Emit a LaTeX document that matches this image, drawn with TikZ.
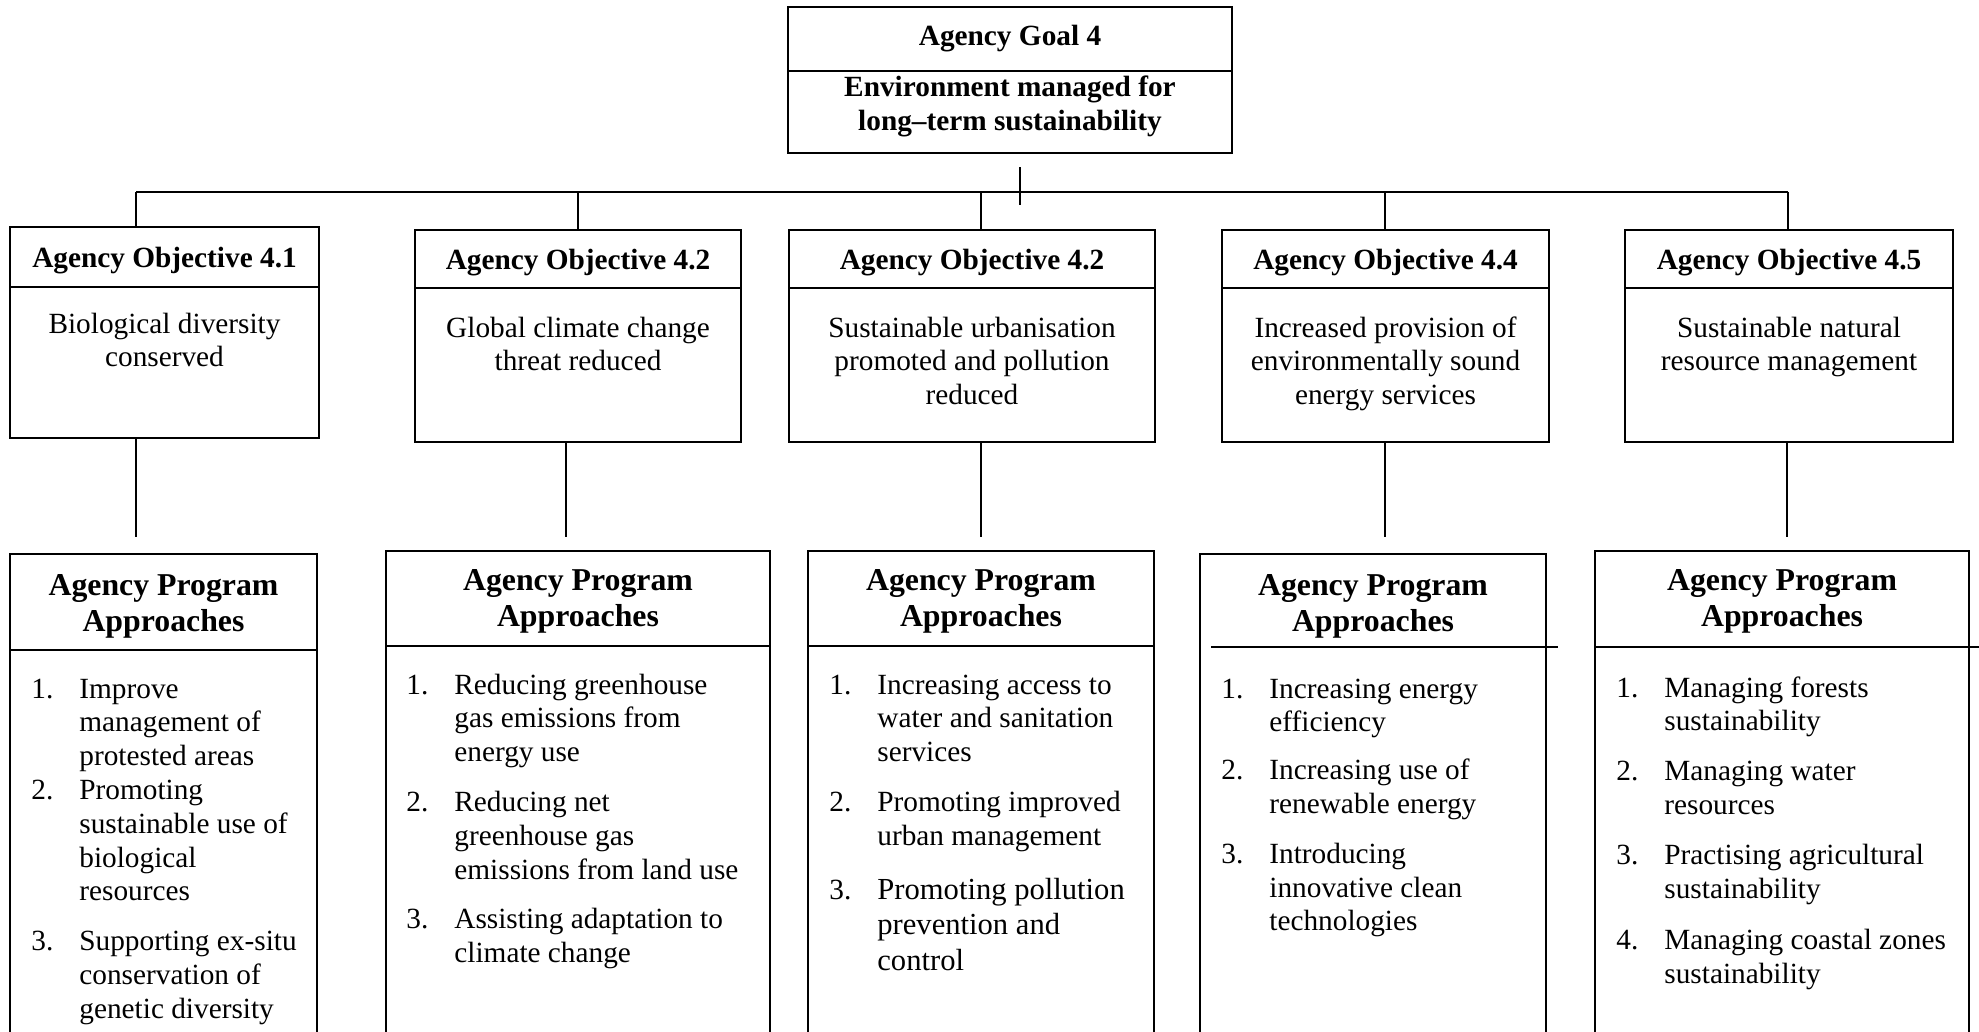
\documentclass[tikz,border=0pt]{standalone}
\usepackage{fontspec}
\setmainfont{Liberation Serif}
\usetikzlibrary{positioning}

\newcommand{\agbody}{\fontsize{14.65}{16.9}\selectfont}
\newcommand{\agtitle}{\fontsize{14.65}{16.9}\selectfont\bfseries}
\newcommand{\aghead}{\fontsize{15.9}{18}\selectfont\bfseries}
\newcommand{\agbig}{\fontsize{15.3}{17.6}\selectfont}

\tikzset{
  box/.style={draw, line width=0.9pt, inner sep=0pt, outer sep=0pt},
  objtitle/.style={box, font=\agtitle, text depth=0pt},
  link/.style={draw, line width=0.75pt},
  txt/.style={inner sep=0pt, anchor=base},
  lst/.style={inner sep=0pt, anchor=base west, font=\agbody},
}

\begin{document}
\begin{tikzpicture}[x=0.5pt,y=-0.5pt]
  \clip (0,0) rectangle (1979,1032);

  % goal
  \node[box, minimum width=222pt, minimum height=32pt, font=\agtitle] (goal) at (1010,39) {Agency Goal 4};
  \node[box, minimum width=222pt, minimum height=41pt, below=0pt of goal] (goalb) {};
  \node[txt, font=\agtitle] (goaltx) at (1010,97) {\begin{tabular}[t]{@{}c@{}}Environment managed for\\ long--term sustainability\end{tabular}};

  % objectives
  \node[objtitle, minimum width=154.5pt, minimum height=30pt] (ot1) at (164.5,257) {Agency Objective 4.1};
  \node[box, minimum width=154.5pt, minimum height=75.5pt, below=0pt of ot1] (ob1) {};
  \node[objtitle, minimum width=163pt, minimum height=29pt] (ot2) at (578,259) {Agency Objective 4.2};
  \node[box, minimum width=163pt, minimum height=77pt, below=0pt of ot2] (ob2) {};
  \node[objtitle, minimum width=183pt, minimum height=29pt] (ot3) at (972,259) {Agency Objective 4.2};
  \node[box, minimum width=183pt, minimum height=77pt, below=0pt of ot3] (ob3) {};
  \node[objtitle, minimum width=163.5pt, minimum height=29pt] (ot4) at (1385.5,259) {Agency Objective 4.4};
  \node[box, minimum width=163.5pt, minimum height=77pt, below=0pt of ot4] (ob4) {};
  \node[objtitle, minimum width=164pt, minimum height=29pt] (ot5) at (1789,259) {Agency Objective 4.5};
  \node[box, minimum width=164pt, minimum height=77pt, below=0pt of ot5] (ob5) {};

  \node[txt, font=\agbody] (ox1) at (164.5,333) {\begin{tabular}[t]{@{}c@{}}Biological diversity\\ conserved\end{tabular}};
  \node[txt, font=\agbody] (ox2) at (578,337) {\begin{tabular}[t]{@{}c@{}}Global climate change\\ threat reduced\end{tabular}};
  \node[txt, font=\agbody] (ox3) at (972,337) {\begin{tabular}[t]{@{}c@{}}Sustainable urbanisation\\ promoted and pollution\\ reduced\end{tabular}};
  \node[txt, font=\agbody] (ox4) at (1385.5,337) {\begin{tabular}[t]{@{}c@{}}Increased provision of\\ environmentally sound\\ energy services\end{tabular}};
  \node[txt, font=\agbody] (ox5) at (1789,337) {\begin{tabular}[t]{@{}c@{}}Sustainable natural\\ resource management\end{tabular}};

  % program approaches
  \node[box, minimum width=153.5pt, minimum height=273pt] (pa1) at (163.5,827) {};
  \node[box, minimum width=192pt, minimum height=274.5pt] (pa2) at (578,825.5) {};
  \node[box, minimum width=173pt, minimum height=274.5pt] (pa3) at (981,825.5) {};
  \node[box, minimum width=173pt, minimum height=273pt] (pa4) at (1373,827) {};
  \node[box, minimum width=187pt, minimum height=274.5pt] (pa5) at (1782,825.5) {};

  \draw[box] ([yshift=-48pt]pa1.north west) -- ([yshift=-48pt]pa1.north east);
  \draw[box] ([yshift=-47.5pt]pa2.north west) -- ([yshift=-47.5pt]pa2.north east);
  \draw[box] ([yshift=-47.5pt]pa3.north west) -- ([yshift=-47.5pt]pa3.north east);
  \draw[box] ([xshift=5.5pt,yshift=-46.5pt]pa4.north west) -- ([xshift=6pt,yshift=-46.5pt]pa4.north east);
  \draw[box] ([yshift=-48pt]pa5.north west) -- ([xshift=5pt,yshift=-48pt]pa5.north east);

  \node[txt, font=\aghead] (ph1) at (163.5,595) {\begin{tabular}[t]{@{}c@{}}Agency Program\\ Approaches\end{tabular}};
  \node[txt, font=\aghead] (ph2) at (578,590) {\begin{tabular}[t]{@{}c@{}}Agency Program\\ Approaches\end{tabular}};
  \node[txt, font=\aghead] (ph3) at (981,590) {\begin{tabular}[t]{@{}c@{}}Agency Program\\ Approaches\end{tabular}};
  \node[txt, font=\aghead] (ph4) at (1373,595) {\begin{tabular}[t]{@{}c@{}}Agency Program\\ Approaches\end{tabular}};
  \node[txt, font=\aghead] (ph5) at (1782,590) {\begin{tabular}[t]{@{}c@{}}Agency Program\\ Approaches\end{tabular}};

  \node[lst] (pl1) at (31,698) {\begin{tabular}[t]{@{}p{24pt}@{}l@{}}
    1. & Improve\\
       & management of\\
       & protested areas\\
    2. & Promoting\\
       & sustainable use of\\
       & biological\\
       & resources\\[8pt]
    3. & Supporting ex-situ\\
       & conservation of\\
       & genetic diversity
  \end{tabular}};
  \node[lst] (pl2) at (406,694) {\begin{tabular}[t]{@{}p{24pt}@{}l@{}}
    1. & Reducing greenhouse\\
       & gas emissions from\\
       & energy use\\[8pt]
    2. & Reducing net\\
       & greenhouse gas\\
       & emissions from land use\\[8pt]
    3. & Assisting adaptation to\\
       & climate change
  \end{tabular}};
  \node[lst] (pl3) at (829,694) {\begin{tabular}[t]{@{}p{24pt}@{}l@{}}
    1. & Increasing access to\\
       & water and sanitation\\
       & services\\[8pt]
    2. & Promoting improved\\
       & urban management\\[10pt]
    3. & \agbig Promoting pollution\\[1pt]
       & \agbig prevention and\\[1pt]
       & \agbig control
  \end{tabular}};
  \node[lst] (pl4) at (1221,698) {\begin{tabular}[t]{@{}p{24pt}@{}l@{}}
    1. & Increasing energy\\
       & efficiency\\[7pt]
    2. & Increasing use of\\
       & renewable energy\\[8pt]
    3. & Introducing\\
       & innovative clean\\
       & technologies
  \end{tabular}};
  \node[lst] (pl5) at (1616,697) {\begin{tabular}[t]{@{}p{24pt}@{}l@{}}
    1. & Managing forests\\
       & sustainability\\[8pt]
    2. & Managing water\\
       & resources\\[8pt]
    3. & Practising agricultural\\
       & sustainability\\[9pt]
    4. & Managing coastal zones\\
       & sustainability
  \end{tabular}};

  % connectors
  \coordinate (gs) at (1020,205);
  \coordinate (b1) at (136,192);
  \coordinate (b2) at (578,192);
  \coordinate (b3) at (981,192);
  \coordinate (b4) at (1385,192);
  \coordinate (b5) at (1788,192);
  \coordinate (d1) at (136,537);
  \coordinate (d2) at (566,537);
  \coordinate (d3) at (981,537);
  \coordinate (d4) at (1385,537);
  \coordinate (d5) at (1787,537);

  \draw[link, shorten >=7pt] (gs) -- (gs |- goalb.south);
  \draw[link] (b1) -- (b5);
  \foreach \i in {1,...,5} {
    \draw[link] (b\i) -- (b\i |- ot\i.north);
    \draw[link] (d\i |- ob\i.south) -- (d\i);
  }
\end{tikzpicture}
\end{document}
